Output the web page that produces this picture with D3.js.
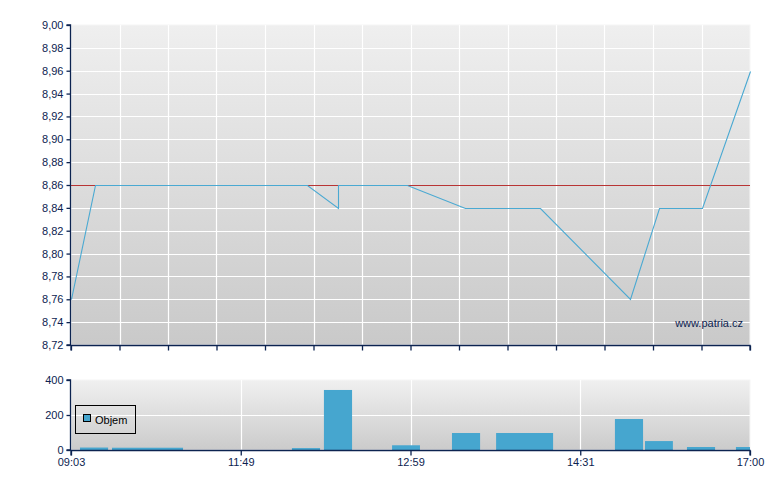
<!DOCTYPE html>
<html><head><meta charset="utf-8">
<script src="https://cdn.jsdelivr.net/npm/d3@7"></script>
<style>
html,body{margin:0;padding:0;background:#fff;}
svg{display:block;font-family:Arial,"Liberation Sans",sans-serif;}
</style></head>
<body>
<svg id="c" width="780" height="490"></svg>
<script>
// ---- data ----
const xTickPos = [0, 7, 14, 21, 28];
const xTickLabels = ["09:03", "11:49", "12:59", "14:31", "17:00"];
const pricePos = [0, 0.99, 9.73, 11.01, 11.01, 13.86, 16.25, 19.34, 23.05, 24.26, 26.01, 28];
const priceVal = [8.76, 8.86, 8.86, 8.84, 8.86, 8.86, 8.84, 8.84, 8.76, 8.84, 8.84, 8.96];
const prevClose = 8.86;
const volStart = [0.37, 1.69, 9.11, 10.43, 13.24, 15.71, 17.53, 22.43, 23.67, 25.40, 27.42];
const volEnd   = [1.53, 4.62, 10.27, 11.59, 14.39, 16.87, 19.88, 23.59, 24.82, 26.56, 28.00];
const volVal   = [14, 13, 11, 343, 27, 97, 97, 177, 51, 17, 17];
const priceTicks = [8.72, 8.74, 8.76, 8.78, 8.80, 8.82, 8.84, 8.86, 8.88, 8.90, 8.92, 8.94, 8.96, 8.98, 9.00];
const volTicks = [0, 200, 400];
const legendLabel = "Objem";
const watermark = "www.patria.cz";

// ---- layout ----
const svg = d3.select("#c");
const L = 71, R = 750;
const pTop = 25, pBot = 345;
const vTop = 380, vBot = 450;
const navy = "#0c2350";
const lineCol = "#4aa9d2";
const barCol = "#46a6cf";

const x = d3.scaleLinear().domain([0, 28]).range([L, R]);
const yP = d3.scaleLinear().domain([8.72, 9.00]).range([pBot, pTop]);
const yV = d3.scaleLinear().domain([0, 400]).range([vBot, vTop]);

const defs = svg.append("defs");
function grad(id, c1, c2) {
  const g = defs.append("linearGradient").attr("id", id).attr("x1", 0).attr("y1", 0).attr("x2", 0).attr("y2", 1);
  g.append("stop").attr("offset", "0%").attr("stop-color", c1);
  g.append("stop").attr("offset", "100%").attr("stop-color", c2);
}
grad("gp", "#efefef", "#c9c9c9");
grad("gv", "#f0f0f0", "#cbcbcb");

// ---- price panel ----
svg.append("rect").attr("x", L).attr("y", pTop).attr("width", R - L).attr("height", pBot - pTop)
  .attr("fill", "url(#gp)").attr("stroke", "#f6f6f6").attr("stroke-width", 1);

const gridP = svg.append("g").attr("stroke", "#fff").attr("stroke-width", 1.2);
priceTicks.forEach(t => {
  if (t > 8.72 && t < 9.0) gridP.append("line").attr("x1", L).attr("x2", R)
    .attr("y1", Math.round(yP(t)) + 0.5).attr("y2", Math.round(yP(t)) + 0.5);
});
d3.range(2, 28, 2).forEach(s => {
  gridP.append("line").attr("x1", Math.round(x(s)) + 0.5).attr("x2", Math.round(x(s)) + 0.5)
    .attr("y1", pTop).attr("y2", pBot);
});

// reference line
svg.append("line").attr("x1", L).attr("x2", R)
  .attr("y1", Math.round(yP(prevClose)) + 0.5).attr("y2", Math.round(yP(prevClose)) + 0.5)
  .attr("stroke", "#b83434").attr("stroke-width", 1);

const pts = pricePos.map((p, i) => [p, priceVal[i]]);
svg.append("path").datum(pts)
  .attr("d", d3.line().x(d => Math.round(x(d[0])) + 0.5).y(d => Math.round(yP(d[1])) + 0.5))
  .attr("fill", "none").attr("stroke", lineCol).attr("stroke-width", 1.1);

svg.append("text").attr("x", 743).attr("y", 327).attr("text-anchor", "end")
  .attr("font-size", 11).attr("fill", navy).text(watermark);

// axes
const axP = d3.axisLeft(yP).tickValues(priceTicks).tickSize(4).tickPadding(3)
  .tickFormat(d => d3.format(".2f")(d).replace(".", ","));
const gAP = svg.append("g").attr("transform", `translate(${L - 0.5},0)`).call(axP);
const axPB = d3.axisBottom(x).tickValues(d3.range(0, 29, 2)).tickSize(5).tickFormat("");
const gAPB = svg.append("g").attr("transform", `translate(0,${pBot + 0.5})`).call(axPB);

// ---- volume panel ----
svg.append("rect").attr("x", L).attr("y", vTop).attr("width", R - L).attr("height", vBot - vTop)
  .attr("fill", "url(#gv)").attr("stroke", "#f6f6f6").attr("stroke-width", 1);
const gridV = svg.append("g").attr("stroke", "#fff").attr("stroke-width", 1.2);
gridV.append("line").attr("x1", L).attr("x2", R).attr("y1", Math.round(yV(200)) + 0.5).attr("y2", Math.round(yV(200)) + 0.5);
[7, 14, 21].forEach(s => gridV.append("line").attr("x1", Math.round(x(s)) + 0.5).attr("x2", Math.round(x(s)) + 0.5)
  .attr("y1", vTop).attr("y2", vBot));

svg.append("g").selectAll("rect").data(volVal).join("rect")
  .attr("x", (d, i) => x(volStart[i]))
  .attr("width", (d, i) => x(volEnd[i]) - x(volStart[i]))
  .attr("y", d => yV(d)).attr("height", d => vBot - yV(d))
  .attr("fill", barCol);

const axV = d3.axisLeft(yV).tickValues(volTicks).tickSize(4).tickPadding(3);
const gAV = svg.append("g").attr("transform", `translate(${L - 0.5},0)`).call(axV);
const axVB = d3.axisBottom(x).tickValues(xTickPos).tickSize(5).tickPadding(3)
  .tickFormat((d, i) => xTickLabels[i]);
const gAVB = svg.append("g").attr("transform", `translate(0,${vBot + 0.5})`).call(axVB);

[gAP, gAPB, gAV, gAVB].forEach(g => {
  g.selectAll("path").attr("stroke", navy).attr("stroke-width", 1.3);
  g.selectAll("line").attr("stroke", navy).attr("stroke-width", 1.3);
  g.selectAll("text").attr("fill", navy).attr("font-size", 11)
    .attr("font-family", "Arial, 'Liberation Sans', sans-serif");
});
gAP.select("path").attr("d", `M-4,${pBot}H0V${pTop}H-4`);
gAV.select("path").attr("d", `M-4,${vBot}H0V${vTop}H-4`);
gAPB.select("path").attr("d", `M${L},5V0H${R}V5`);
gAVB.select("path").attr("d", `M${L},5V0H${R}V5`);

// legend
const lg = svg.append("g");
lg.append("rect").attr("x", 75.5).attr("y", 405.5).attr("width", 60).attr("height", 28)
  .attr("fill", "none").attr("stroke", "#000").attr("stroke-width", 1);
lg.append("rect").attr("x", 83.5).attr("y", 414.5).attr("width", 7).attr("height", 7)
  .attr("fill", barCol).attr("stroke", "#000").attr("stroke-width", 1);
lg.append("text").attr("x", 95).attr("y", 424).attr("font-size", 11).attr("fill", "#000")
  .text(legendLabel);
</script>
</body></html>
